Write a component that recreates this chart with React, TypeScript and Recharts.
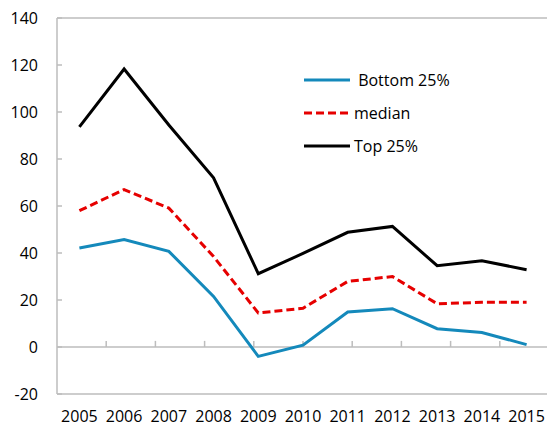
import React from "react";
import {
  LineChart,
  Line,
  XAxis,
  YAxis,
  ReferenceLine,
  Legend,
} from "recharts";

const years = ["2005", "2006", "2007", "2008", "2009", "2010", "2011", "2012", "2013", "2014", "2015"];
const bottom25 = [42.1, 45.7, 40.7, 21.5, -4, 0.8, 14.9, 16.3, 7.8, 6.2, 1];
const median = [58, 67, 59.1, 38.5, 14.5, 16.5, 27.9, 30, 18.4, 19, 19];
const top25 = [93.7, 118.3, 94.5, 72, 31.2, 39.8, 48.8, 51.3, 34.6, 36.7, 32.9];
const yTicks = [-20, 0, 20, 40, 60, 80, 100, 120, 140];

const FONT = "'Open Sans', 'Noto Sans', sans-serif";
const AXIS_GRAY = "#bdbdbd";

const series = [
  { key: "bottom", name: " Bottom 25%", color: "#1489bb", dash: undefined as string | undefined },
  { key: "median", name: "median", color: "#e60000", dash: "8 4" },
  { key: "top", name: "Top 25%", color: "#000000", dash: undefined as string | undefined },
];

const data = years.map((year, i) => ({
  year,
  bottom: bottom25[i],
  median: median[i],
  top: top25[i],
}));

// category boundaries for the little ticks on the zero line
const boundaries = years.slice(1).map((_, i) => i + 1);

function LegendBox() {
  return (
    <div style={{ fontFamily: FONT, fontSize: 16, color: "#000" }}>
      {series.map((s) => (
        <div key={s.key} style={{ display: "flex", alignItems: "center", height: 33 }}>
          <svg width={46} height={10} style={{ marginRight: 4 }}>
            <line
              x1={0}
              y1={5}
              x2={46}
              y2={5}
              stroke={s.color}
              strokeWidth={3}
              strokeDasharray={s.dash}
            />
          </svg>
          <span style={{ whiteSpace: "pre" }}>{s.name}</span>
        </div>
      ))}
    </div>
  );
}

export default function App() {
  return (
    <div
      style={{
        position: "fixed",
        left: 0,
        top: 0,
        width: 547,
        height: 427,
        overflow: "hidden",
        background: "#fff",
      }}
    >
      <LineChart
        width={560}
        height={427}
        data={data}
        margin={{ top: 18, right: 11, left: 0, bottom: 0 }}
      >
        <XAxis
          dataKey="year"
          height={33}
          axisLine={false}
          tickLine={false}
          tickSize={0}
          tickMargin={17}
          padding={{ left: 22.4, right: 22.4 }}
          interval={0}
          tick={{ fill: "#000", fontSize: 16, fontFamily: FONT }}
        />
        <XAxis xAxisId="grid" type="number" domain={[0, 11]} hide />
        <YAxis
          width={57}
          domain={[-20, 140]}
          ticks={yTicks}
          interval={0}
          axisLine={{ stroke: AXIS_GRAY, strokeWidth: 1.5 }}
          tickLine={{ stroke: AXIS_GRAY, strokeWidth: 1.5 }}
          tickSize={-5}
          tickMargin={24}
          tick={{ fill: "#000", fontSize: 16, fontFamily: FONT }}
        />
        <ReferenceLine y={140} stroke={AXIS_GRAY} strokeWidth={1.5} />
        <ReferenceLine y={-20} stroke={AXIS_GRAY} strokeWidth={1.5} />
        <ReferenceLine y={0} stroke={AXIS_GRAY} strokeWidth={1.5} />
        <ReferenceLine xAxisId="grid" x={11} stroke={AXIS_GRAY} strokeWidth={1.5} />
        {boundaries.map((b) => (
          <ReferenceLine
            key={b}
            xAxisId="grid"
            segment={[
              { x: b, y: 0 },
              { x: b, y: 2.6 },
            ]}
            stroke={AXIS_GRAY}
            strokeWidth={1.5}
          />
        ))}
        <Legend
          layout="vertical"
          align="center"
          verticalAlign="middle"
          content={() => <LegendBox />}
          wrapperStyle={{ position: "absolute", left: 304, top: 63, width: 170 }}
        />
        {series.map((s) => (
          <Line
            key={s.key}
            dataKey={s.key}
            name={s.name}
            stroke={s.color}
            strokeWidth={3}
            strokeDasharray={s.dash}
            dot={false}
            activeDot={false}
            strokeLinejoin="miter"
            isAnimationActive={false}
          />
        ))}
      </LineChart>
    </div>
  );
}
